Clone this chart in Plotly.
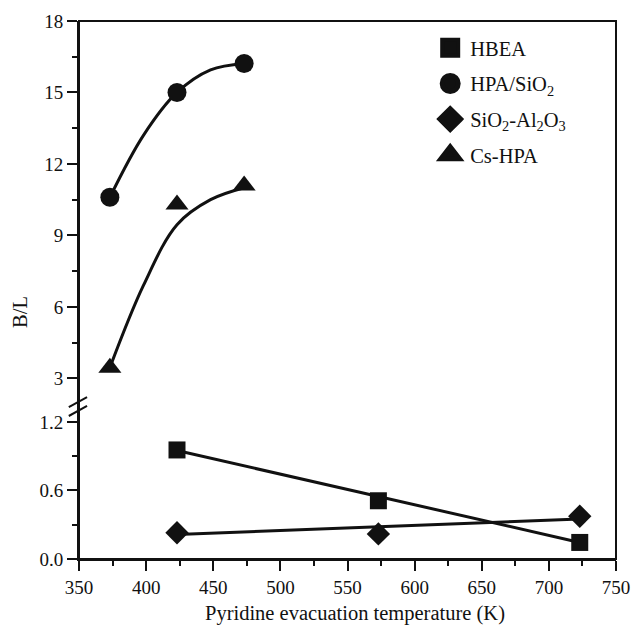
import plotly.graph_objects as go

# ---- data ----
temp_hbea = [423, 573, 723]
bl_hbea = [0.955, 0.51, 0.145]
temp_sial = [423, 573, 723]
bl_sial = [0.23, 0.22, 0.375]
temp_hpa = [373, 423, 473]
bl_hpa = [10.6, 15.0, 16.22]
temp_cs = [373, 423, 473]
bl_cs = [3.45, 10.3, 11.1]

# fitted trend lines as drawn in the figure
fit_hbea_x = [423, 723]
fit_hbea_y = [0.95, 0.145]
fit_sial_x = [423, 723]
fit_sial_y = [0.215, 0.35]
fit_hpa_x = [373, 398, 423, 448, 473]
fit_hpa_y = [10.6, 13.2, 15.0, 15.95, 16.22]
fit_cs_x = [373, 398, 423, 448, 473]
fit_cs_y = [3.45, 6.9, 9.45, 10.5, 11.0]

series_names = ["HBEA", "HPA/SiO<sub>2</sub>", "SiO<sub>2</sub>-Al<sub>2</sub>O<sub>3</sub>", "Cs-HPA"]
series_symbols = ["square", "circle", "diamond", "triangle-up"]

x_ticks = [350, 400, 450, 500, 550, 600, 650, 700, 750]
y_low_ticks = [0.0, 0.6, 1.2]
y_up_ticks = [3, 6, 9, 12, 15, 18]

FONT = "Liberation Serif"
BLACK = "#111111"
LW = 3

fig = go.Figure()

# fit lines
fig.add_trace(go.Scatter(x=fit_hbea_x, y=fit_hbea_y, mode="lines", xaxis="x", yaxis="y",
                         line=dict(color=BLACK, width=LW), showlegend=False, hoverinfo="skip"))
fig.add_trace(go.Scatter(x=fit_sial_x, y=fit_sial_y, mode="lines", xaxis="x", yaxis="y",
                         line=dict(color=BLACK, width=LW), showlegend=False, hoverinfo="skip"))
fig.add_trace(go.Scatter(x=fit_hpa_x, y=fit_hpa_y, mode="lines", xaxis="x", yaxis="y2",
                         line=dict(color=BLACK, width=LW, shape="spline"), showlegend=False, hoverinfo="skip"))
fig.add_trace(go.Scatter(x=fit_cs_x, y=fit_cs_y, mode="lines", xaxis="x", yaxis="y2",
                         line=dict(color=BLACK, width=LW, shape="spline"), showlegend=False, hoverinfo="skip"))

# data markers
fig.add_trace(go.Scatter(x=temp_hbea, y=bl_hbea, mode="markers", name=series_names[0], xaxis="x", yaxis="y",
                         showlegend=False, marker=dict(symbol=series_symbols[0], size=17, color=BLACK)))
fig.add_trace(go.Scatter(x=temp_hpa, y=bl_hpa, mode="markers", name=series_names[1], xaxis="x", yaxis="y2",
                         showlegend=False, marker=dict(symbol=series_symbols[1], size=19, color=BLACK)))
fig.add_trace(go.Scatter(x=temp_sial, y=bl_sial, mode="markers", name=series_names[2], xaxis="x", yaxis="y",
                         showlegend=False, marker=dict(symbol=series_symbols[2], size=18, color=BLACK)))
fig.add_trace(go.Scatter(x=temp_cs, y=bl_cs, mode="markers", name=series_names[3], xaxis="x", yaxis="y2",
                         showlegend=False, marker=dict(symbol=series_symbols[3], size=20, color=BLACK)))

# legend entries (larger symbols, as in the original legend)
for i, (nm, sym) in enumerate(zip(series_names, series_symbols)):
    fig.add_trace(go.Scatter(x=[None], y=[None], mode="markers", name=nm, xaxis="x", yaxis="y",
                             legendgroup=str(i), hoverinfo="skip",
                             marker=dict(symbol=sym, size=16, color=BLACK,
                                         line=dict(color=BLACK, width=4 if sym == "square" else 5))))

split = 0.2844
axis_common = dict(showline=True, linecolor=BLACK, linewidth=2, ticks="outside", ticklen=10,
                   tickwidth=2, tickcolor=BLACK, showgrid=False, zeroline=False, automargin=False,
                   tickfont=dict(family=FONT, size=19, color=BLACK))
minor_common = dict(ticks="outside", ticklen=5, tickwidth=2, tickcolor=BLACK)

fig.update_layout(
    width=633, height=625,
    margin=dict(l=79, r=17, t=21, b=66, autoexpand=False),
    paper_bgcolor="white", plot_bgcolor="white",
    font=dict(family=FONT, size=19, color=BLACK),
    xaxis=dict(domain=[0, 1], range=[350, 750], anchor="y", tickvals=x_ticks,
               minor=dict(tickvals=[375, 425, 475, 525, 575, 625, 675, 725], **minor_common),
               **axis_common),
    yaxis=dict(domain=[0, split], range=[0, 1.34], anchor="x", tickvals=y_low_ticks, tickformat=".1f",
               minor=dict(tickvals=[0.3, 0.9], **minor_common),
               **axis_common),
    yaxis2=dict(domain=[split, 1], range=[1.84, 18], anchor="x", tickvals=y_up_ticks,
                minor=dict(tickvals=[4.5, 7.5, 10.5, 13.5, 16.5], **minor_common),
                **axis_common),
    legend=dict(x=0.654, y=0.987, xanchor="left", yanchor="top", bgcolor="rgba(0,0,0,0)",
                font=dict(family=FONT, size=20.5, color=BLACK), tracegroupgap=6, itemwidth=30),
    showlegend=True,
)

# frame
fig.add_shape(type="rect", xref="paper", yref="paper", x0=0, x1=1, y0=0, y1=1,
              line=dict(color=BLACK, width=2), layer="above")
# axis-break marks
fig.add_shape(type="line", xref="paper", yref="paper", x0=-0.019, x1=0.015, y0=0.2825, y1=0.3011,
              line=dict(color=BLACK, width=2))
fig.add_shape(type="line", xref="paper", yref="paper", x0=-0.019, x1=0.015, y0=0.2658, y1=0.2844,
              line=dict(color=BLACK, width=2))

# axis titles
fig.add_annotation(text="B/L", xref="paper", yref="paper", x=-0.110, y=0.459, xanchor="center",
                   yanchor="middle", showarrow=False, textangle=-90,
                   font=dict(family=FONT, size=20.5, color=BLACK))
fig.add_annotation(text="Pyridine evacuation temperature (K)", xref="paper", yref="paper",
                   x=0.514, y=-0.1004, xanchor="center", yanchor="middle", showarrow=False,
                   font=dict(family=FONT, size=20.5, color=BLACK))

# remove the default 8px page margin so the figure fills the window exactly
fig.write_html("out.html", config={"displayModeBar": False},
               post_script="document.body.style.margin='0';document.body.style.overflow='hidden';")
